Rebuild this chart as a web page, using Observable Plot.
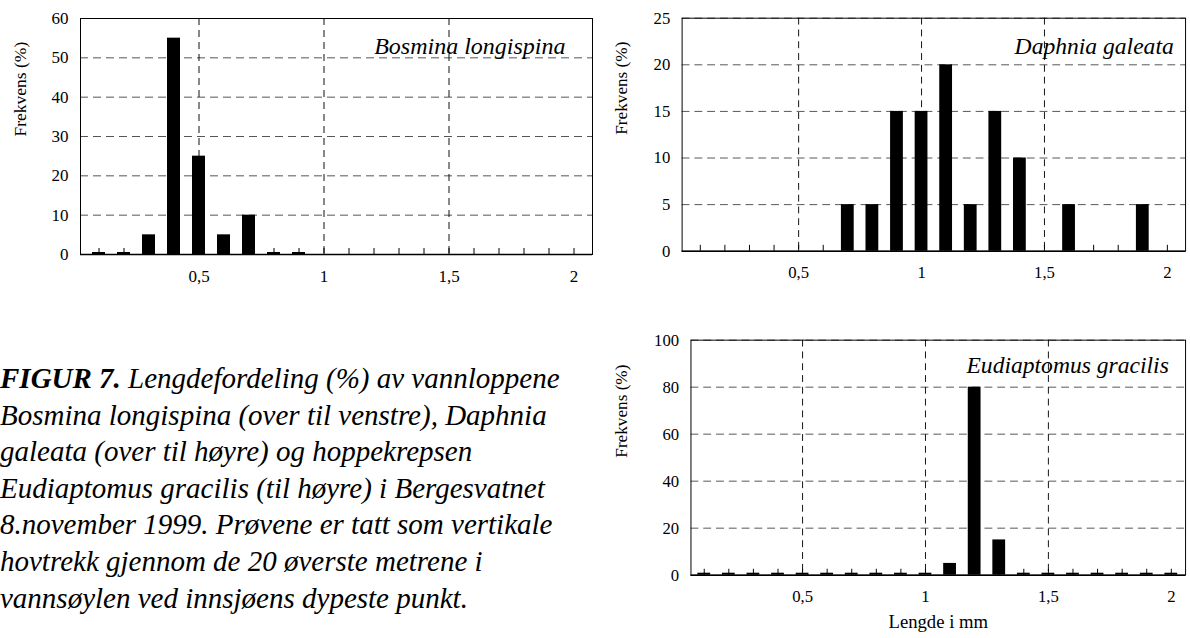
<!DOCTYPE html>
<html><head><meta charset="utf-8">
<script src="https://cdn.jsdelivr.net/npm/d3@7"></script>
<script src="https://cdn.jsdelivr.net/npm/@observablehq/plot@0.6"></script>
<style>
html,body{margin:0;padding:0;background:#fff;overflow:hidden;width:1190px;height:638px;}
#root{position:relative;width:1190px;height:638px;overflow:hidden;background:#fff;}
.panel{position:absolute;}
.panel svg, .panel svg text{font-family:"Liberation Serif","Times New Roman",serif !important;}
#caption{position:absolute;left:0;top:360px;width:620px;font-family:"Liberation Serif","Times New Roman",serif;font-style:italic;font-size:29px;line-height:36.6px;color:#000;white-space:nowrap;}
#caption b{font-weight:bold;}
</style></head>
<body><div id="root">
<div id="p1" class="panel" style="left:0;top:0"></div>
<div id="p2" class="panel" style="left:600px;top:0"></div>
<div id="p3" class="panel" style="left:600px;top:320px"></div>
<div id="caption"></div>
</div>
<script>
// Length classes (mm)
const lengths = [0.1,0.2,0.3,0.4,0.5,0.6,0.7,0.8,0.9,1.0,1.1,1.2,1.3,1.4,1.5,1.6,1.7,1.8,1.9,2.0];
// Frequency (%) per length class (null = no bar)
const bosmina     = [0,0,5,55,25,5,10,0,0,null,null,null,null,null,null,null,null,null,null,null];
const daphnia     = [null,null,null,null,null,null,5,5,15,15,20,5,15,10,null,5,null,null,5,null];
const eudiaptomus = [0,0,0,0,0,0,0,0,0,0,5,80,15,0,0,0,0,0,0,0];

const xTickValues = [0.5, 1, 1.5, 2];
const xTickLabels = ["0,5", "1", "1,5", "2"];
const xGrid = [0.5, 1, 1.5];
const yTicksBosmina = [0,10,20,30,40,50,60];
const yTicksDaphnia = [0,5,10,15,20,25];
const yTicksEudiaptomus = [0,20,40,60,80,100];
const speciesNames = ["Bosmina longispina", "Daphnia galeata", "Eudiaptomus gracilis"];
const yTitle = "Frekvens (%)";
const xTitle = "Lengde i mm";
const captionLabel = "FIGUR 7.";
const captionLines = [
  " Lengdefordeling (%) av vannloppene",
  "Bosmina longispina (over til venstre), Daphnia",
  "galeata (over til høyre) og hoppekrepsen",
  "Eudiaptomus gracilis (til høyre) i Bergesvatnet",
  "8.november 1999. Prøvene er tatt som vertikale",
  "hovtrekk gjennom de 20 øverste metrene i",
  "vannsøylen ved innsjøens dypeste punkt."
];

const FONT = "Liberation Serif";

function panel(o) {
  const data = lengths.map((x, i) => ({x, v: o.values[i]})).filter(d => d.v != null);
  const marks = [
    Plot.ruleY(o.yTicks.slice(1), {stroke: "#555", strokeDasharray: "8,5"}),
    Plot.ruleX(xGrid, {stroke: "#111", strokeDasharray: "7,5"}),
    Plot.barY(data.filter(d => d.v > 0), {x: "x", y: "v", fill: "#000"}),
    Plot.barY(data.filter(d => d.v === 0), {x: "x", y: "v", fill: "#000", insetTop: -2}),
    Plot.ruleX(lengths, {x: d => d, y1: 0, y2: 0, insetTop: -6, stroke: "#000"}),
    Plot.ruleY([0], {stroke: "#000", strokeWidth: 1.5}),
    Plot.frame({stroke: "#000"}),
    Plot.axisY({ticks: o.yTicks, tickSize: 0, tickPadding: 12, label: null, fontSize: 17, fontFamily: FONT}),
    Plot.axisX({ticks: xTickValues, tickSize: 0, tickPadding: 15, label: null, fontSize: 17, fontFamily: FONT,
      tickFormat: d => xTickLabels[xTickValues.indexOf(d)]}),
    Plot.text([yTitle], {text: d => d, frameAnchor: "left", dx: o.yTitleDx, rotate: -90, fontSize: 17.5, fontFamily: FONT}),
    Plot.text([o.name], {text: d => d, frameAnchor: "top-right", lineAnchor: "middle", dx: o.nameDx, dy: o.nameDy,
      fontStyle: "italic", fontSize: 24, fontFamily: FONT})
  ];
  if (o.xTitle) marks.push(Plot.text([o.xTitle], {text: d => d, frameAnchor: "bottom", lineAnchor: "middle",
    dy: o.xTitleDy, fontSize: 19, fontFamily: FONT}));
  return Plot.plot({
    width: o.width, height: o.height,
    marginLeft: o.ml, marginRight: o.mr, marginTop: o.mt, marginBottom: o.mb,
    style: {fontFamily: FONT, fontSize: "17px", color: "#000", background: "transparent", overflow: "visible"},
    x: {type: "band", domain: lengths, paddingInner: 0.47, paddingOuter: 0.235, align: 0.5},
    y: {domain: [0, o.yTicks[o.yTicks.length - 1]]},
    marks
  });
}

document.getElementById("p1").append(panel({values: bosmina, yTicks: yTicksBosmina, name: speciesNames[0],
  width: 600, height: 290, ml: 80, mr: 8, mt: 18, mb: 36, yTitleDx: -60, nameDx: -27, nameDy: 28}));
document.getElementById("p2").append(panel({values: daphnia, yTicks: yTicksDaphnia, name: speciesNames[1],
  width: 600, height: 290, ml: 83, mr: 5, mt: 18, mb: 35, yTitleDx: -62, nameDx: -12, nameDy: 29}));
document.getElementById("p3").append(panel({values: eudiaptomus, yTicks: yTicksEudiaptomus, name: speciesNames[2],
  width: 600, height: 318, ml: 92, mr: 5, mt: 20, mb: 59, yTitleDx: -71, nameDx: -17, nameDy: 26,
  xTitle: xTitle, xTitleDy: 48}));

const cap = document.getElementById("caption");
captionLines.forEach((line, i) => {
  const div = document.createElement("div");
  if (i === 0) {
    const b = document.createElement("b");
    b.textContent = captionLabel;
    div.append(b);
  }
  div.append(document.createTextNode(line));
  cap.append(div);
});
</script>
</body></html>
